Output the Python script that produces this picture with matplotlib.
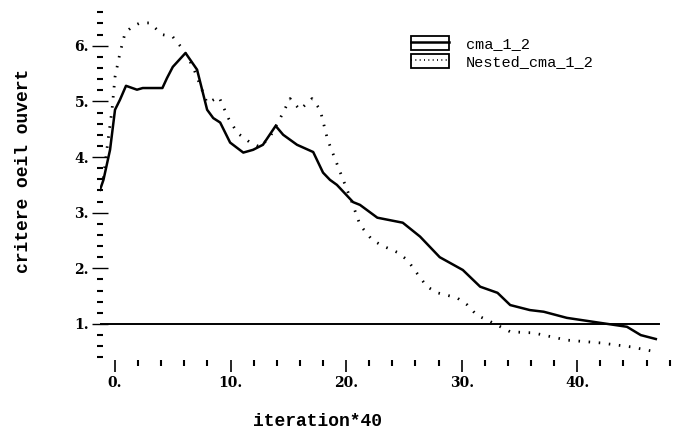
import matplotlib
matplotlib.use("Agg")
import matplotlib.pyplot as plt
from matplotlib.patches import Rectangle
from matplotlib.lines import Line2D
from matplotlib.legend_handler import HandlerTuple

# cma_1_2 (solid)
x_cma = [-1.3, -1.0, -0.43, 0.0, 0.43, 0.95, 1.9, 2.4, 4.1, 4.5, 5.0, 6.1,
         7.1, 7.97, 8.5, 9.1, 9.96, 11.1, 11.95, 12.8, 13.9, 14.55, 15.75,
         17.15, 18.0, 18.6, 19.2, 20.6, 21.2, 22.7, 24.9, 26.4, 28.1, 30.1,
         31.6, 33.1, 34.2, 35.9, 37.1, 39.1, 42.0, 44.3, 45.5, 46.8]
y_cma = [3.41, 3.59, 4.13, 4.85, 5.03, 5.28, 5.21, 5.24, 5.24, 5.42, 5.62, 5.87,
         5.57, 4.85, 4.70, 4.62, 4.26, 4.08, 4.13, 4.22, 4.56, 4.40, 4.22,
         4.09, 3.72, 3.59, 3.50, 3.19, 3.14, 2.91, 2.82, 2.57, 2.20, 1.97,
         1.67, 1.56, 1.34, 1.25, 1.22, 1.11, 1.02, 0.95, 0.80, 0.73]

# Nested_cma_1_2 (dotted)
x_nested = [-1.3, -1.0, -0.6, -0.26, 0.0, 0.43, 0.87, 1.47, 2.16, 3.0, 4.1,
            5.0, 5.9, 6.75, 7.97, 9.0, 9.8, 10.6, 11.7, 12.55, 13.4, 14.3,
            15.15, 16.0, 17.05, 17.75, 18.4, 19.5, 20.5, 21.2, 22.25, 23.2,
            24.4, 25.3, 26.1, 27.0, 27.9, 29.6, 30.5, 31.3, 32.7, 34.2, 36.2,
            39.1, 42.0, 44.6, 46.8]
y_nested = [3.45, 3.64, 4.31, 4.85, 5.44, 5.87, 6.23, 6.34, 6.41, 6.41, 6.20,
            6.16, 5.93, 5.62, 4.97, 5.08, 4.70, 4.43, 4.26, 4.18, 4.36, 4.70,
            5.05, 4.85, 5.05, 4.85, 4.31, 3.72, 3.19, 2.78, 2.51, 2.40,
            2.29, 2.15, 1.92, 1.67, 1.56, 1.47, 1.34, 1.16, 1.02, 0.86, 0.84,
            0.71, 0.66, 0.59, 0.50]

threshold = 1.0
x_major = [0, 10, 20, 30, 40]
x_labels = ["0.", "10.", "20.", "30.", "40."]
y_major = [1, 2, 3, 4, 5, 6]
y_labels = ["1.", "2.", "3.", "4.", "5.", "6."]
x_minor = list(range(0, 50, 2))
y_minor = [v / 10 for v in range(4, 68, 2)]

fig = plt.figure(figsize=(6.77, 4.29), dpi=100)
ax = fig.add_axes([100 / 677, 63 / 429, 572 / 677, 362 / 429])

ax.plot(x_cma, y_cma, color="black", lw=1.8)
ax.plot(x_nested, y_nested, color="black", lw=2.0, linestyle=(0, (0.55, 3.1)))
ax.axhline(threshold, xmin=0.0, xmax=0.977, color="black", lw=1.4)

ax.set_xlim(-1.3, 48.2)
ax.set_ylim(0.245, 6.75)

for s in ax.spines.values():
    s.set_visible(False)

ax.set_xticks(x_major)
ax.set_xticklabels(x_labels)
ax.set_xticks(x_minor, minor=True)
ax.set_yticks(y_major)
ax.set_yticklabels(y_labels)
ax.set_yticks(y_minor, minor=True)

ax.tick_params(axis="x", which="major", direction="inout", length=9, width=1.2, pad=3)
ax.tick_params(axis="x", which="minor", direction="in", length=4, width=1.5)
ax.tick_params(axis="y", which="major", direction="inout", length=12, width=1.0, pad=2)
ax.tick_params(axis="y", which="minor", direction="inout", length=5, width=1.5)

for lab in ax.get_xticklabels() + ax.get_yticklabels():
    lab.set_fontfamily("DejaVu Serif")
    lab.set_fontweight("bold")
    lab.set_fontsize(10)

ax.set_xlabel("iteration*40", fontfamily="Liberation Mono", fontweight="bold",
              fontsize=13)
ax.xaxis.set_label_coords(0.38, -0.13)
ax.set_ylabel("critere oeil ouvert", fontfamily="Liberation Mono", fontweight="bold",
              fontsize=13)
ax.yaxis.set_label_coords(-0.119, 0.54)

box1 = Rectangle((0, 0), 1, 1, facecolor="white", edgecolor="black", lw=1.3)
box2 = Rectangle((0, 0), 1, 1, facecolor="white", edgecolor="black", lw=1.3)
h1 = Line2D([], [], color="black", lw=1.8)
h2 = Line2D([], [], color="black", lw=1.2, linestyle=(0, (0.6, 2.0)))
ax.legend([(box1, h1), (box2, h2)], ["cma_1_2", "Nested_cma_1_2"],
          handler_map={tuple: HandlerTuple(ndivide=1)},
          loc="upper left", bbox_to_anchor=(405 / 677, 1 - 30 / 429),
          bbox_transform=fig.transFigure, frameon=False,
          prop={"family": "Liberation Mono", "size": 11},
          handlelength=2.5, handleheight=1.0, handletextpad=1.1,
          labelspacing=0.2, borderaxespad=0)

fig.savefig("out.png", dpi=100)
